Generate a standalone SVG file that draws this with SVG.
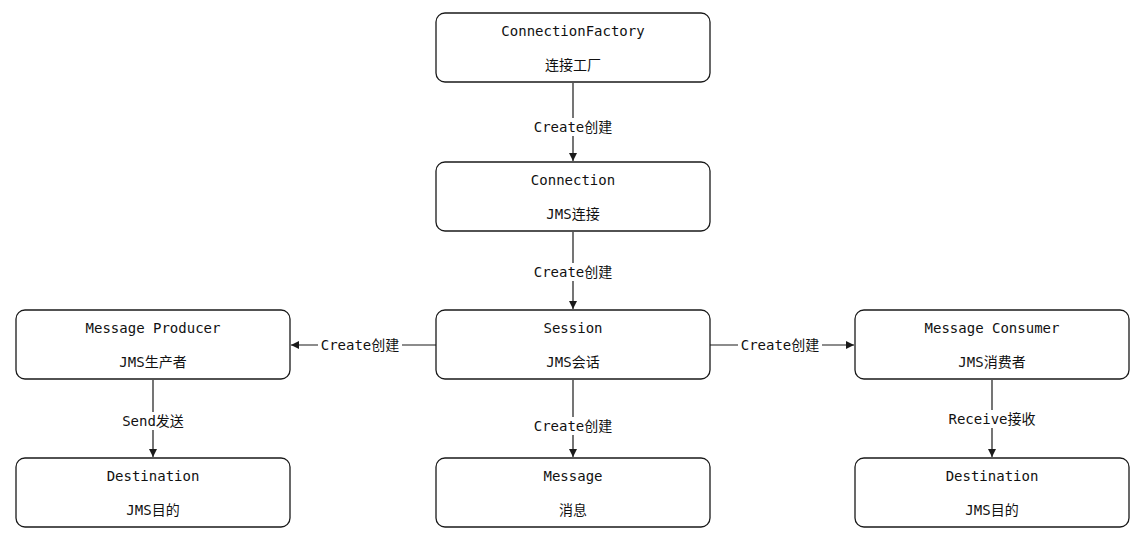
<svg xmlns="http://www.w3.org/2000/svg" width="1146" height="540" viewBox="0 0 1146 540">
<style>
.box{fill:#fff;stroke:#1a1a1a;stroke-width:1.3}
.t{font-family:"DejaVu Sans Mono","Noto Sans CJK SC",monospace;font-size:14px;fill:#111;text-anchor:middle;dominant-baseline:central}
.e{stroke:#1a1a1a;stroke-width:1.2;fill:none;marker-end:url(#ah)}
.lb{fill:#fff}
</style>
<defs>
<marker id="ah" viewBox="0 0 10 10" refX="10" refY="5" markerWidth="8" markerHeight="8" markerUnits="userSpaceOnUse" orient="auto">
<path d="M0,0 L10,5 L0,10 z" fill="#1a1a1a"/>
</marker>
</defs>
<rect width="1146" height="540" fill="#fff"/>
<g id="connectors">
<path class="e" d="M573,83 V161"/>
<path class="e" d="M573,232 V309"/>
<path class="e" d="M573,380 V457"/>
<path class="e" d="M436,345 H291"/>
<path class="e" d="M710,345 H854"/>
<path class="e" d="M153,380 V457"/>
<path class="e" d="M992,380 V457"/>
<rect class="lb" x="531" y="118" width="84" height="18"/>
<text class="t" x="573" y="127">Create创建</text>
<rect class="lb" x="531" y="263" width="84" height="18"/>
<text class="t" x="573" y="272">Create创建</text>
<rect class="lb" x="531" y="417" width="84" height="18"/>
<text class="t" x="573" y="426">Create创建</text>
<rect class="lb" x="318" y="336" width="84" height="18"/>
<text class="t" x="360" y="345">Create创建</text>
<rect class="lb" x="738" y="336" width="84" height="18"/>
<text class="t" x="780" y="345">Create创建</text>
<rect class="lb" x="120" y="412" width="66" height="18"/>
<text class="t" x="153" y="421">Send发送</text>
<rect class="lb" x="950" y="410" width="84" height="18"/>
<text class="t" x="992" y="419">Receive接收</text>
</g>
<g id="connectionFactory">
<rect class="box" x="436" y="13" width="274" height="69" rx="9"/>
<text class="t" x="573" y="31">ConnectionFactory</text>
<text class="t" x="573" y="65">连接工厂</text>
</g>
<g id="connection">
<rect class="box" x="436" y="162" width="274" height="69" rx="9"/>
<text class="t" x="573" y="180">Connection</text>
<text class="t" x="573" y="214">JMS连接</text>
</g>
<g id="session">
<rect class="box" x="436" y="310" width="274" height="69" rx="9"/>
<text class="t" x="573" y="328">Session</text>
<text class="t" x="573" y="362">JMS会话</text>
</g>
<g id="message">
<rect class="box" x="436" y="458" width="274" height="69" rx="9"/>
<text class="t" x="573" y="476">Message</text>
<text class="t" x="573" y="510">消息</text>
</g>
<g id="producer">
<rect class="box" x="16" y="310" width="274" height="69" rx="9"/>
<text class="t" x="153" y="328">Message Producer</text>
<text class="t" x="153" y="362">JMS生产者</text>
</g>
<g id="destinationLeft">
<rect class="box" x="16" y="458" width="274" height="69" rx="9"/>
<text class="t" x="153" y="476">Destination</text>
<text class="t" x="153" y="510">JMS目的</text>
</g>
<g id="consumer">
<rect class="box" x="855" y="310" width="274" height="69" rx="9"/>
<text class="t" x="992" y="328">Message Consumer</text>
<text class="t" x="992" y="362">JMS消费者</text>
</g>
<g id="destinationRight">
<rect class="box" x="855" y="458" width="274" height="69" rx="9"/>
<text class="t" x="992" y="476">Destination</text>
<text class="t" x="992" y="510">JMS目的</text>
</g>
</svg>
